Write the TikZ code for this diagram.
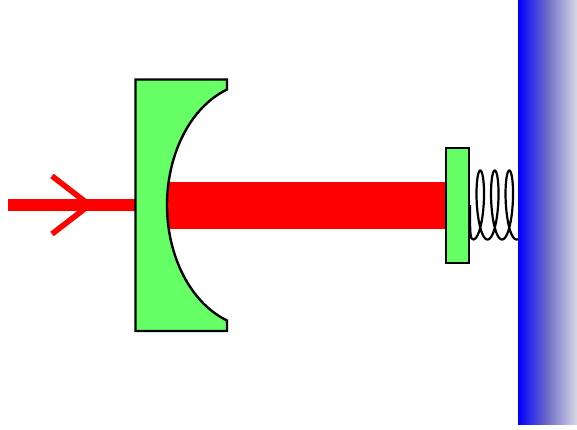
\documentclass[tikz,border=0pt]{standalone}
\usepackage{tikz}
\usepackage{xcolor}
\definecolor{mirrorgreen}{HTML}{66FF66}
\definecolor{wallmid}{HTML}{6E6EC8}
\definecolor{wallend}{HTML}{D8D8E6}

\begin{document}
\begin{tikzpicture}[x=0.025cm,y=-0.025cm,
    mirror/.style={draw=black,line width=0.6mm,fill=mirrorgreen,line join=miter},
    beam/.style={red,line width=3mm}]
    \useasboundingbox (0,0) rectangle (577,429);
    \shade[left color=blue,right color=wallend,middle color=wallmid] (518,0) rectangle (577,424.7);
    \fill[red] (160,182) rectangle (446,229);
    \draw[beam] (8,205)--(136,205);
    \draw[red,line width=1.4mm] (52,176)--(89.5,205)--(52,234);
    \draw[mirror] (135.5,79.5)--(227,79.5)--(227,89.5)
        arc[start angle=109.5,end angle=250.5,x radius=2.25cm,y radius=3.0625cm]
        --(227,331)--(135.5,331)--cycle;
    \draw[line width=0.55mm] (470,205) .. controls (470,232) and (470,239.5) .. (473,239.5)
        plot[domain=0:19,samples=240,smooth] ({473+2.31*\x+7*sin(\x r)},{205+34.5*cos(\x r)});
    \draw[mirror] (446,148) rectangle (469,263);
\end{tikzpicture}
\end{document}
